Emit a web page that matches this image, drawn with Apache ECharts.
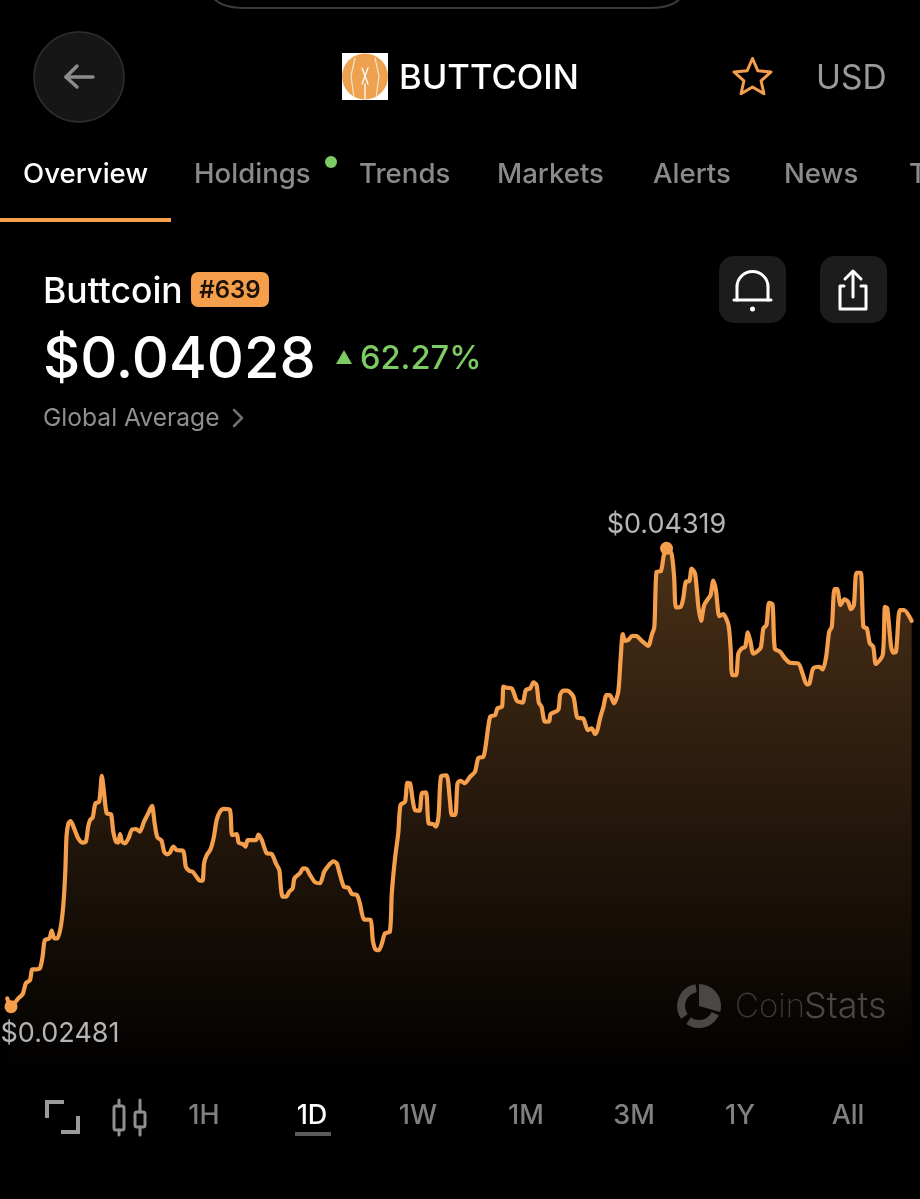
<!DOCTYPE html>
<html>
<head>
<meta charset="utf-8">
<title>Buttcoin</title>
<script src="https://cdn.jsdelivr.net/npm/echarts@6/dist/echarts.min.js"></script>
<style>
html, body { margin: 0; padding: 0; background: #000; }
#main { width: 920px; height: 1199px; }
</style>
</head>
<body>
<div id="main"></div>
<script>
// hours into the 1D window
var hours = [
  0.19,0.24,0.29,0.39,0.48,0.60,0.68,0.79,0.85,0.95,1.05,1.12,1.18,1.30,1.36,1.43,1.51,1.60,1.67,1.72,
  1.75,1.80,1.86,1.95,2.06,2.18,2.26,2.32,2.37,2.44,2.51,2.61,2.68,2.74,2.81,2.92,2.98,3.05,3.11,3.16,
  3.21,3.29,3.38,3.48,3.58,3.68,3.79,3.90,4.00,4.07,4.14,4.25,4.32,4.40,4.47,4.56,4.65,4.82,4.89,4.98,
  5.07,5.18,5.26,5.33,5.37,5.44,5.54,5.63,5.70,5.79,5.89,6.05,6.11,6.23,6.28,6.39,6.46,6.52,6.74,6.80,
  6.89,7.02,7.15,7.26,7.35,7.39,7.44,7.53,7.61,7.70,7.75,7.89,
  7.98,8.07,8.16,8.29,8.42,8.53,8.64,8.77,8.86,8.95,9.05,9.17,9.26,9.39,9.47,9.58,9.75,9.81,9.88,9.97,
  10.05,10.13,10.26,10.31,10.40,10.48,10.54,10.66,10.72,10.79,10.86,10.92,11.04,11.10,11.21,11.28,11.40,11.47,11.54,11.61,
  11.75,11.84,11.89,11.98,12.04,12.12,12.23,12.37,12.50,12.59,12.72,12.79,12.90,13.03,13.09,13.21,13.25,13.33,13.47,13.60,
  13.75,13.84,13.95,14.04,14.12,14.18,14.25,14.34,14.45,14.49,14.69,14.74,14.82,14.93,15.09,15.19,15.35,15.47,15.57,15.66,15.72,
  15.79,15.88,15.96,16.05,16.16,16.27,16.33,16.39,16.45,16.53,16.64,16.75,16.89,17.06,17.15,17.22,17.28,17.39,17.47,17.54,
  17.67,17.74,17.79,17.91,17.98,18.05,18.14,18.20,18.29,18.38,18.45,18.53,18.64,18.70,18.77,18.84,18.93,19.03,19.17,19.23,
  19.27,19.37,19.43,19.52,19.61,19.68,19.75,19.82,19.91,20.02,20.09,20.17,20.24,20.33,20.39,20.53,20.66,20.79,21.01,21.12,
  21.23,21.30,21.40,21.56,21.65,21.74,21.82,21.89,21.96,22.03,22.12,22.22,22.32,22.39,22.47,22.54,22.65,22.72,22.81,22.89,
  22.98,23.05,23.23,23.29,23.35,23.45,23.51,23.58,23.68,23.79,23.99
];
var prices = [
  0.02514,0.02494,0.02481,0.02497,0.02514,0.02532,0.02575,0.02588,0.02631,0.02631,0.02635,0.02681,0.02748,0.02755,0.02786,0.02755,0.02755,0.02802,0.02895,0.03029,
  0.03163,0.03216,0.03225,0.03196,0.03156,0.03139,0.03143,0.03203,0.03229,0.03240,0.03296,0.03303,0.03407,0.03336,0.03256,0.03253,0.03183,0.03143,0.03139,0.03173,
  0.03143,0.03136,0.03156,0.03192,0.03193,0.03183,0.03223,0.03256,0.03286,0.03216,0.03160,0.03147,0.03102,0.03092,0.03098,0.03123,0.03109,0.03106,0.03042,0.03026,
  0.03022,0.03000,0.02986,0.02986,0.03056,0.03089,0.03112,0.03163,0.03229,0.03263,0.03274,0.03270,0.03169,0.03173,0.03139,0.03133,0.03123,0.03149,0.03149,0.03171,
  0.03149,0.03096,0.03093,0.03056,0.03029,0.02962,0.02922,0.02922,0.02942,0.02955,0.02996,0.03016,
  0.03036,0.03033,0.03009,0.02980,0.02976,0.03022,0.03046,0.03064,0.03056,0.03009,0.02962,0.02958,0.02933,0.02929,0.02895,0.02831,0.02829,0.02748,0.02711,0.02708,
  0.02735,0.02775,0.02782,0.02935,0.03082,0.03176,0.03290,0.03303,0.03379,0.03377,0.03310,0.03270,0.03267,0.03336,0.03340,0.03216,0.03213,0.03203,0.03243,0.03406,
  0.03409,0.03310,0.03250,0.03250,0.03377,0.03387,0.03377,0.03403,0.03423,0.03479,0.03483,0.03537,0.03644,0.03650,0.03677,0.03684,0.03764,0.03760,0.03757,0.03708,
  0.03700,0.03751,0.03757,0.03781,0.03771,0.03700,0.03684,0.03624,0.03624,0.03654,0.03671,0.03731,0.03748,0.03748,0.03724,0.03641,0.03636,0.03590,0.03597,0.03574,0.03590,
  0.03637,0.03683,0.03730,0.03730,0.03697,0.03744,0.03871,0.03975,0.03948,0.03951,0.03968,0.03967,0.03948,0.03928,0.03971,0.04004,0.04225,0.04227,0.04292,0.04319,
  0.04298,0.04205,0.04082,0.04084,0.04118,0.04185,0.04187,0.04238,0.04218,0.04084,0.04028,0.04091,0.04118,0.04131,0.04189,0.04151,0.04047,0.04055,0.04011,0.03911,
  0.03810,0.03810,0.03897,0.03917,0.03924,0.03982,0.03944,0.03897,0.03904,0.03921,0.03998,0.04011,0.04100,0.04094,0.03917,0.03904,0.03877,0.03860,0.03857,0.03817,
  0.03773,0.03777,0.03837,0.03844,0.03833,0.03884,0.03984,0.04004,0.04155,0.04155,0.04091,0.04114,0.04104,0.04075,0.04091,0.04221,0.04221,0.04004,0.03998,0.03938,
  0.03924,0.03855,0.03891,0.04084,0.04078,0.03924,0.03901,0.03904,0.04071,0.04071,0.04028
];
var tabs = [['Overview', 23], ['Holdings', 194], ['Trends', 359], ['Markets', 497], ['Alerts', 653], ['News', 784], ['T', 909]];
var ranges = [['1H', 204], ['1D', 312], ['1W', 418], ['1M', 526], ['3M', 634], ['1Y', 740], ['All', 848]];

var ORANGE = '#f59e4c';
var FONT = 'Inter, "Noto Sans", sans-serif';

function txt(s, x, y, size, weight, fill, align) {
  return {
    type: 'text', x: x, y: y, z: 10,
    style: { text: s, fill: fill, font: weight + ' ' + size + 'px ' + FONT, textAlign: align || 'left', textVerticalAlign: 'middle' }
  };
}
function line(points, color, width, cap) {
  return {
    type: 'polyline', z: 10,
    shape: { points: points },
    style: { stroke: color, lineWidth: width, fill: null, lineCap: cap || 'round', lineJoin: cap ? 'miter' : 'round' }
  };
}
function box(x, y, w, h, r, fill, stroke) {
  return {
    type: 'rect', z: 9,
    shape: { x: x, y: y, width: w, height: h, r: r },
    style: { fill: fill, stroke: stroke || null, lineWidth: stroke ? 3 : 0 }
  };
}
function dot(cx, cy, r, fill, stroke, width) {
  return {
    type: 'circle', z: 10,
    shape: { cx: cx, cy: cy, r: r },
    style: { fill: fill, stroke: stroke || null, lineWidth: width || 0 }
  };
}
function wedge(r0, r, a0, a1, fill) {
  return {
    type: 'sector', z: 10,
    shape: { cx: 699, cy: 1006, r0: r0, r: r, startAngle: a0, endAngle: a1, clockwise: true },
    style: { fill: fill }
  };
}
function starPoints(cx, cy, R, r) {
  var pts = [];
  for (var i = 0; i < 10; i++) {
    var a = -Math.PI / 2 + i * Math.PI / 5;
    var d = i % 2 ? r : R;
    pts.push([cx + d * Math.cos(a), cy + d * Math.sin(a)]);
  }
  return pts;
}

var ui = [];
// top notch outline
ui.push({ type: 'bezierCurve', z: 9, shape: { x1: 212, y1: -4, cpx1: 220, cpy1: 8, x2: 244, y2: 8 }, style: { fill: null, stroke: '#3a3a3a', lineWidth: 2 } });
ui.push(line([[244, 8], [650, 8]], '#3a3a3a', 2));
ui.push({ type: 'bezierCurve', z: 9, shape: { x1: 650, y1: 8, cpx1: 674, cpy1: 8, x2: 682, y2: -4 }, style: { fill: null, stroke: '#3a3a3a', lineWidth: 2 } });
// header
ui.push(dot(79, 77, 45, '#161616', '#2e2e2e', 1.5));
ui.push(line([[93, 77], [66, 77]], '#8c8c8c', 3.5));
ui.push(line([[77, 66], [66, 77], [77, 87]], '#8c8c8c', 3.5));
ui.push(box(342, 53, 46, 47, 0, '#fff'));
ui.push(dot(365, 76.5, 23, '#eea24f'));
ui.push(line([[355, 58], [351, 76], [354, 98]], '#f6e3c8', 1.2));
ui.push(line([[375, 58], [379, 76], [376, 98]], '#f6e3c8', 1.2));
ui.push(line([[362, 68], [368, 84]], '#fff', 1.3));
ui.push(line([[368, 68], [362, 84]], '#fff', 1.3));
ui.push(line([[365, 84], [365, 99]], '#fff', 1.3));
ui.push(txt('BUTTCOIN', 399, 79, 34.6, 500, '#fff'));
ui.push({ type: 'polygon', z: 10, shape: { points: starPoints(752.5, 78, 19.5, 9) },
  style: { fill: null, stroke: ORANGE, lineWidth: 3, lineJoin: 'round' } });
ui.push(txt('USD', 816, 79, 33.5, 400, '#9a9a9a'));
// tabs
tabs.forEach(function (t, i) {
  ui.push(txt(t[0], t[1], 175, 27.6, 500, i === 0 ? '#fff' : '#8a8a8a'));
});
ui.push(dot(331, 162, 6, '#7dcb63'));
ui.push(box(0, 218, 171, 4, 0, ORANGE));
// price block
ui.push(txt('Buttcoin', 43, 292, 35.5, 500, '#fff'));
ui.push(box(191, 272, 78, 35, 7, ORANGE));
ui.push(txt('#639', 230, 291, 24, 600, '#1c1206', 'center'));
ui.push(txt('$0.04028', 43, 361, 57.6, 500, '#fff'));
ui.push({ type: 'polygon', z: 10, shape: { points: [[336, 364], [344, 350], [352, 364]] }, style: { fill: '#7dcb63' } });
ui.push(txt('62.27%', 360, 359, 32.6, 500, '#7dcb63'));
ui.push(txt('Global Average', 43, 418.5, 24.6, 400, '#8f8f8f'));
ui.push(line([[234, 410], [242, 418], [234, 426]], '#6f6f6f', 2.5));
// bell + share buttons
ui.push(box(719, 256, 67, 67, 15, '#1c1c1c'));
ui.push(box(820, 256, 67, 67, 15, '#1c1c1c'));
ui.push({ type: 'arc', z: 10, shape: { cx: 752.5, cy: 287, r: 15.5, startAngle: Math.PI, endAngle: Math.PI * 2, clockwise: true },
  style: { fill: null, stroke: '#fff', lineWidth: 3 } });
ui.push(line([[737, 287], [737, 300]], '#fff', 3));
ui.push(line([[768, 287], [768, 300]], '#fff', 3));
ui.push(line([[734, 300], [771, 300]], '#fff', 3));
ui.push(dot(752.5, 309, 2.5, '#fff'));
ui.push(line([[844, 286], [840, 286], [840, 309], [866, 309], [866, 286], [861, 286]], '#fff', 3));
ui.push(line([[853, 297], [853, 272]], '#fff', 3));
ui.push(line([[845, 279], [853, 271], [861, 279]], '#fff', 3));
// watermark
ui.push(wedge(0, 22, -Math.PI / 2, 0.28, '#4a4846'));
ui.push(wedge(14, 22, 2.52, 4.55, '#4a4846'));
ui.push(wedge(14, 22, 0.44, 2.19, '#4a4846'));
ui.push(txt('Coin', 735, 1007, 33, 200, '#3d3b39'));
ui.push(txt('Stats', 804, 1007, 36, 300, '#4a4846'));
// bottom bar
ui.push(line([[47, 1118], [47, 1102], [64, 1102]], '#9a9a9a', 4, 'butt'));
ui.push(line([[61, 1132], [78, 1132], [78, 1116]], '#9a9a9a', 4, 'butt'));
ui.push(box(114, 1106, 10, 24, 2, null, '#8f8f8f'));
ui.push(box(135, 1112, 10, 15, 2, null, '#8f8f8f'));
ui.push(line([[119, 1100], [119, 1106]], '#8f8f8f', 3));
ui.push(line([[119, 1130], [119, 1135]], '#8f8f8f', 3));
ui.push(line([[140, 1100], [140, 1112]], '#8f8f8f', 3));
ui.push(line([[140, 1127], [140, 1135]], '#8f8f8f', 3));
ranges.forEach(function (t) {
  ui.push(txt(t[0], t[1], 1116, 27, 500, t[0] === '1D' ? '#fff' : '#808080', 'center'));
});
ui.push(box(295, 1132, 36, 4, 0, '#5a5a5a'));

var priceLabel = function (p) { return '$' + p.value.toFixed(5); };

var myChart = echarts.init(document.getElementById('main'));
var option = {
  backgroundColor: '#000',
  animation: false,
  grid: { left: 0, top: 500, width: 912, height: 578 },
  xAxis: { type: 'value', min: 0, max: 24, show: false },
  yAxis: { type: 'value', min: 0.021951, max: 0.045126, show: false },
  series: [{
    type: 'line',
    data: prices.map(function (p, i) { return [hours[i], p]; }),
    smooth: 0.25,
    showSymbol: false,
    lineStyle: { color: ORANGE, width: 4.2, cap: 'round', join: 'round' },
    areaStyle: {
      origin: 'start',
      opacity: 1,
      color: new echarts.graphic.LinearGradient(0, 0, 0, 1, [
        { offset: 0, color: 'rgba(245,158,76,0.3)' },
        { offset: 1, color: 'rgba(245,158,76,0)' }
      ])
    },
    markPoint: {
      symbol: 'circle',
      symbolSize: 13,
      itemStyle: { color: ORANGE },
      data: [
        { type: 'max', valueDim: 'y', label: { show: true, position: 'top', offset: [0, 2], formatter: priceLabel, color: '#b5b5b5', fontSize: 27, fontFamily: 'Inter' } },
        { type: 'min', valueDim: 'y', label: { show: true, position: 'bottom', offset: [49, 2], formatter: priceLabel, color: '#b5b5b5', fontSize: 27, fontFamily: 'Inter' } }
      ]
    }
  }],
  graphic: ui
};
myChart.setOption(option);
</script>
</body>
</html>
